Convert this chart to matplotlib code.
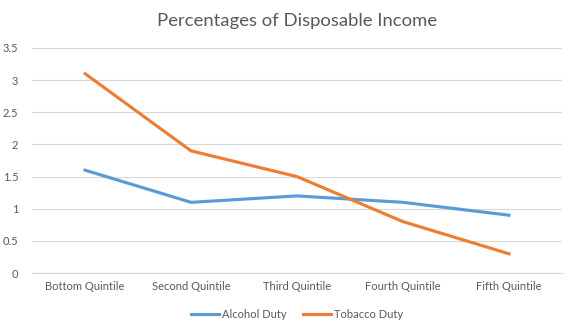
import matplotlib
matplotlib.use("Agg")
import matplotlib.pyplot as plt

categories = ["Bottom Quintile", "Second Quintile", "Third Quintile", "Fourth Quintile", "Fifth Quintile"]
alcohol = [1.6, 1.1, 1.2, 1.1, 0.9]
tobacco = [3.1, 1.9, 1.5, 0.8, 0.3]
yticks = [0, 0.5, 1, 1.5, 2, 2.5, 3, 3.5]

plt.rcParams['font.family'] = ['Lato', 'DejaVu Sans']

fig = plt.figure(figsize=(5.74, 3.31), dpi=100)
ax = fig.add_axes([0.056, 0.175, 0.923, 0.68])

x = list(range(len(categories)))
ax.plot(x, alcohol, color='#5B9BD5', linewidth=2.25, label='Alcohol Duty')
ax.plot(x, tobacco, color='#ED7D31', linewidth=2.25, label='Tobacco Duty')

ax.set_xlim(-0.5, len(categories) - 0.5)
ax.set_ylim(0, 3.5)
ax.set_yticks(yticks)
ax.set_yticklabels(['%g' % v for v in yticks])
ax.set_xticks(x)
ax.set_xticklabels(categories)
ax.yaxis.grid(True, color='#D9D9D9', linewidth=0.8)
ax.set_axisbelow(True)
for s in ['top', 'right', 'left']:
    ax.spines[s].set_visible(False)
ax.spines['bottom'].set_color('#D9D9D9')
ax.tick_params(axis='both', length=0, labelsize=8, colors='#595959', pad=6)
ax.tick_params(axis='y', pad=10)

ax.set_title('Percentages of Disposable Income', fontsize=13.3, color='#595959', pad=16)

ax.legend(loc='upper center', bbox_to_anchor=(0.5, -0.115), ncol=2, frameon=False,
          fontsize=8, labelcolor='#595959', handlelength=2.5, handletextpad=0.3, columnspacing=1.5)

fig.savefig('out.png', dpi=100)
